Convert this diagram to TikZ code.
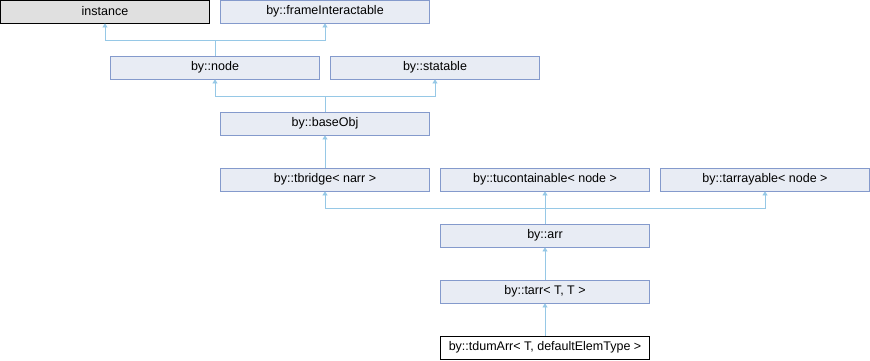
\documentclass[tikz,border=0pt]{standalone}
\usepackage{fontspec}
\setmainfont{Liberation Sans}
\usetikzlibrary{arrows.meta}
\definecolor{classfill}{RGB}{232, 236, 244}
\definecolor{classdraw}{RGB}{132, 154, 204}
\definecolor{basefill}{RGB}{224, 224, 224}
\definecolor{edgeblue}{RGB}{150, 200, 230}

\begin{document}
\begin{tikzpicture}[
    x=1pt, y=-1pt,
    klass/.style={rectangle, draw=classdraw, fill=classfill, line width=0.8pt, minimum width=209pt, minimum height=23pt, inner sep=0pt, font=\fontsize{12.5pt}{14pt}\selectfont},
    extern/.style={klass, draw=black, fill=basefill},
    self/.style={klass, draw=black, fill=white},
    inherit/.style={-{Triangle[width=5pt, length=4pt]}, edgeblue, line width=0.8pt}
]
    \useasboundingbox (0,0) rectangle (870,360);

    % Top bases
    \node[extern] (instance) at (105, 11.5) {instance};
    \node[klass] (frameinter) at (325, 11.5) {by::frameInteractable};

    % Second row
    \node[klass] (node) at (215, 67.5) {by::node};
    \node[klass] (statable) at (435, 67.5) {by::statable};

    \draw[inherit] (node.north) -- (node.north |- 0,40) -| (instance.south);
    \draw[inherit] (node.north |- 0,40) -| (frameinter.south);

    % Base object
    \node[klass] (baseobj) at (325, 123.5) {by::baseObj};

    \draw[inherit] (baseobj.north) -- (baseobj.north |- 0,96) -| (node.south);
    \draw[inherit] (baseobj.north |- 0,96) -| (statable.south);

    % Templates
    \node[klass] (tbridge) at (325, 179.5) {by::tbridge< narr >};
    \node[klass] (tucont) at (545, 179.5) {by::tucontainable< node >};
    \node[klass] (tarray) at (765, 179.5) {by::tarrayable< node >};

    \draw[inherit] (tbridge.north) -- (baseobj.south);

    % Array chain
    \node[klass] (arr) at (545, 235.5) {by::arr};
    \node[klass] (tarr) at (545, 291.5) {by::tarr< T, T >};
    \node[self] (tdumarr) at (545, 347.5) {by::tdumArr< T, defaultElemType >};

    \draw[inherit] (arr.north) -- (tucont.south);
    \draw[inherit] (arr.north |- 0,208) -| (tbridge.south);
    \draw[inherit] (arr.north |- 0,208) -| (tarray.south);
    \draw[inherit] (tarr.north) -- (arr.south);
    \draw[inherit] (tdumarr.north) -- (tarr.south);

\end{tikzpicture}
\end{document}
